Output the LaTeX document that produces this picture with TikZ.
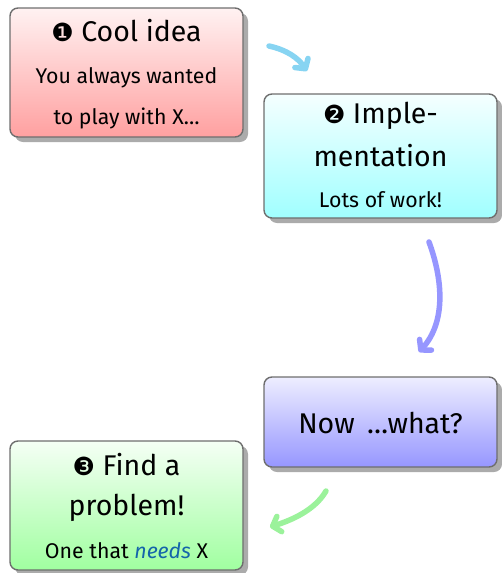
\documentclass[tikz,border=0pt]{standalone}
\usepackage{fontspec}
\setmainfont{Fira Sans}
\newfontfamily\dingfont{DejaVu Sans}
\usetikzlibrary{shadows,arrows.meta}
\definecolor{boxline}{RGB}{110,110,110}
\definecolor{redbot}{RGB}{255,160,160}
\definecolor{redtop}{RGB}{255,242,242}
\definecolor{cyanbot}{RGB}{160,255,255}
\definecolor{cyantop}{RGB}{245,255,255}
\definecolor{bluebot}{RGB}{150,150,255}
\definecolor{bluetop}{RGB}{238,238,255}
\definecolor{greenbot}{RGB}{160,255,160}
\definecolor{greentop}{RGB}{245,255,245}
\definecolor{arrcyan}{RGB}{135,212,242}
\definecolor{arrblue}{RGB}{150,150,255}
\definecolor{arrgreen}{RGB}{155,242,155}
\definecolor{needsblue}{RGB}{20,100,170}
\tikzset{
  stagebox/.style={draw=boxline, line width=1.4pt, rounded corners=8pt,
    minimum width=233pt, inner sep=0pt,
    drop shadow={shadow xshift=5pt, shadow yshift=-5pt, fill=black!33, opacity=1}},
  bigtext/.style={anchor=base, font=\fontsize{28.5}{34}\selectfont},
  smalltext/.style={anchor=base, font=\fontsize{21.3}{25}\selectfont},
  dingtext/.style={font=\dingfont\fontsize{25}{28}\selectfont},
  flow/.style={line width=5.5pt, line cap=round,
    -{Straight Barb[length=7pt, width=16pt, round]}},
}
\newcommand{\dingnum}[1]{{\dingfont\fontsize{25}{28}\selectfont #1}}
\begin{document}
\begin{tikzpicture}[x=1pt, y=-1pt]
  \useasboundingbox (0,0) rectangle (501,573);

  % stage boxes
  \node[stagebox, minimum height=129pt, top color=redtop, bottom color=redbot]
    (idea) at (126.5,72.5) {};
  \node[stagebox, minimum height=124pt, top color=cyantop, bottom color=cyanbot]
    (impl) at (380.5,156) {};
  \node[stagebox, minimum height=90pt, top color=bluetop, bottom color=bluebot]
    (what) at (380.5,422) {};
  \node[stagebox, minimum height=129pt, top color=greentop, bottom color=greenbot]
    (prob) at (126.5,505.5) {};

  % texts
  \node[bigtext] (ideaA) at (126.5,41) {\dingnum{❶} Cool idea};
  \node[smalltext] (ideaB) at (126.5,83) {You always wanted};
  \node[smalltext] (ideaC) at (126.5,124) {to play with X\dots};

  \node[bigtext] (implA) at (380.5,123) {\dingnum{❷} Imple-};
  \node[bigtext] (implB) at (380.5,166) {mentation};
  \node[smalltext] (implC) at (380.5,207) {Lots of work!};

  \node[bigtext] (whatA) at (380.5,433) {Now \,\dots what?};

  \node[bigtext] (probA) at (126.5,475) {\dingnum{❸} Find a};
  \node[bigtext] (probB) at (126.5,515) {problem!};
  \node[smalltext] (probC) at (126.5,558) {One that \textcolor{needsblue}{\itshape needs} X};

  % connectors
  \coordinate (c1s) at (269,46);
  \coordinate (c1e) at (307,71);
  \coordinate (c2s) at (429,242);
  \coordinate (c2e) at (419,352);
  \coordinate (c3s) at (326,491);
  \coordinate (c3e) at (270,527);
  \draw[flow, arrcyan] (c1s) .. controls (287,50) and (298,58) .. (c1e);
  \draw[flow, arrblue] (c2s) .. controls (443,280) and (446,322) .. (c2e);
  \draw[flow, arrgreen] (c3s) .. controls (315,510) and (292,520) .. (c3e);
\end{tikzpicture}
\end{document}
